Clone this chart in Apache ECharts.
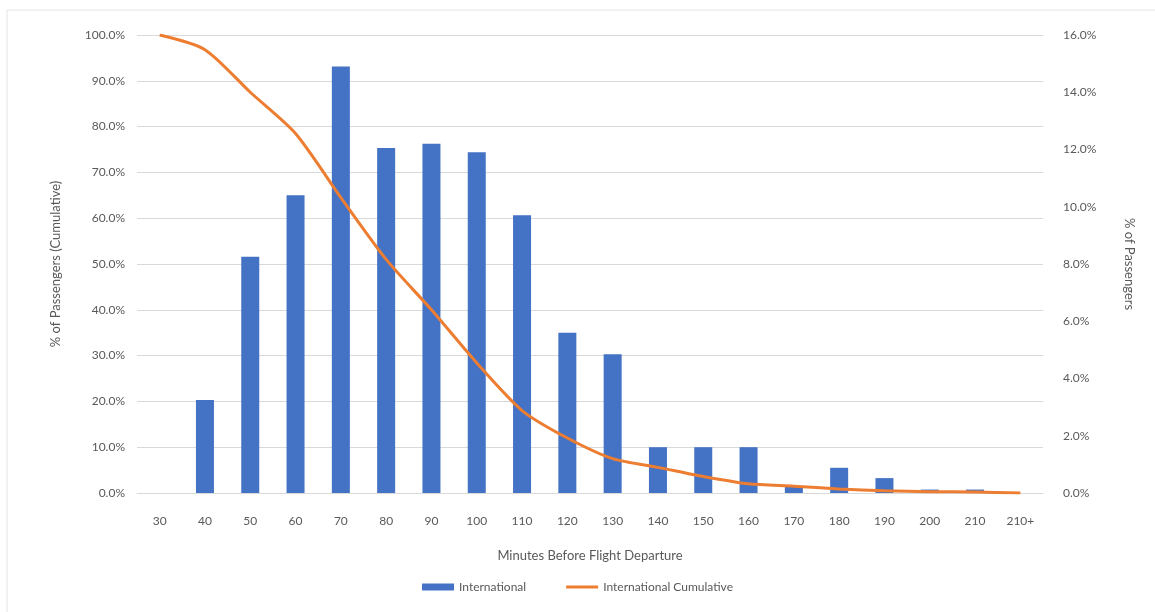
<!DOCTYPE html>
<html>
<head>
<meta charset="utf-8">
<script src="https://cdn.jsdelivr.net/npm/echarts@6/dist/echarts.min.js"></script>
<style>
html,body{margin:0;padding:0;background:#fff;}
#main{width:1155px;height:612px;}
</style>
</head>
<body>
<div id="main"></div>
<script>
const categories = ['30','40','50','60','70','80','90','100','110','120','130','140','150','160','170','180','190','200','210','210+'];
const international = [0, 3.25, 8.25, 10.4, 14.9, 12.05, 12.2, 11.9, 9.7, 5.6, 4.85, 1.6, 1.6, 1.6, 0.22, 0.88, 0.52, 0.12, 0.12, 0];
const cumulative = [100, 96.8, 87.5, 78.5, 64.5, 51, 40, 28.4, 18, 12, 7.5, 5.6, 3.6, 2, 1.5, 0.9, 0.5, 0.3, 0.2, 0];
const leftTicks = {min: 0, max: 100, interval: 10};
const rightTicks = {min: 0, max: 16, interval: 2};

const chart = echarts.init(document.getElementById('main'));
const font = 'Lato, "Open Sans", sans-serif';
const txt = '#595959';
chart.setOption({
  animation: false,
  backgroundColor: '#fff',
  textStyle: {fontFamily: font},
  graphic: [{
    type: 'rect', shape: {x: 7, y: 10, width: 1160, height: 620},
    style: {fill: 'none', stroke: '#e4e4e4', lineWidth: 1}, silent: true
  }],
  grid: {left: 137, right: 112, top: 35, bottom: 119},
  legend: {
    bottom: 14, left: 'center', itemGap: 40, itemWidth: 32, itemHeight: 7,
    textStyle: {color: txt, fontSize: 12, fontFamily: font},
    data: [
      {name: 'International', icon: 'rect'},
      {name: 'International Cumulative', icon: 'path://M0,0 L32,0 L32,3 L0,3 Z'}
    ]
  },
  xAxis: {
    type: 'category', data: categories,
    name: 'Minutes Before Flight Departure', nameLocation: 'middle', nameGap: 56,
    nameTextStyle: {color: txt, fontSize: 13, fontFamily: font},
    axisLine: {lineStyle: {color: '#d9d9d9'}},
    axisTick: {show: false},
    axisLabel: {color: txt, fontSize: 12, margin: 22, fontFamily: font}
  },
  yAxis: [{
    type: 'value', min: leftTicks.min, max: leftTicks.max, interval: leftTicks.interval,
    name: '% of Passengers (Cumulative)', nameLocation: 'middle', nameRotate: 90, nameGap: 75,
    nameTextStyle: {color: txt, fontSize: 13, fontFamily: font},
    axisLine: {show: false}, axisTick: {show: false},
    axisLabel: {color: txt, fontSize: 12, margin: 12, fontFamily: font, formatter: v => v.toFixed(1) + '%'},
    splitLine: {lineStyle: {color: '#d9d9d9'}}
  }, {
    type: 'value', position: 'right', min: rightTicks.min, max: rightTicks.max, interval: rightTicks.interval,
    name: '% of Passengers', nameLocation: 'middle', nameRotate: -90, nameGap: 80,
    nameTextStyle: {color: txt, fontSize: 13, fontFamily: font},
    axisLine: {show: false}, axisTick: {show: false},
    axisLabel: {color: txt, fontSize: 12, margin: 20, fontFamily: font, formatter: v => v.toFixed(1) + '%'},
    splitLine: {show: false}
  }],
  series: [{
    name: 'International', type: 'bar', yAxisIndex: 1, data: international,
    barWidth: 18, itemStyle: {color: '#4472C4'}
  }, {
    name: 'International Cumulative', type: 'line', yAxisIndex: 0, data: cumulative,
    smooth: 0.25, symbol: 'none', lineStyle: {color: '#ED7D31', width: 3}, itemStyle: {color: '#ED7D31'}
  }]
});
</script>
</body>
</html>
